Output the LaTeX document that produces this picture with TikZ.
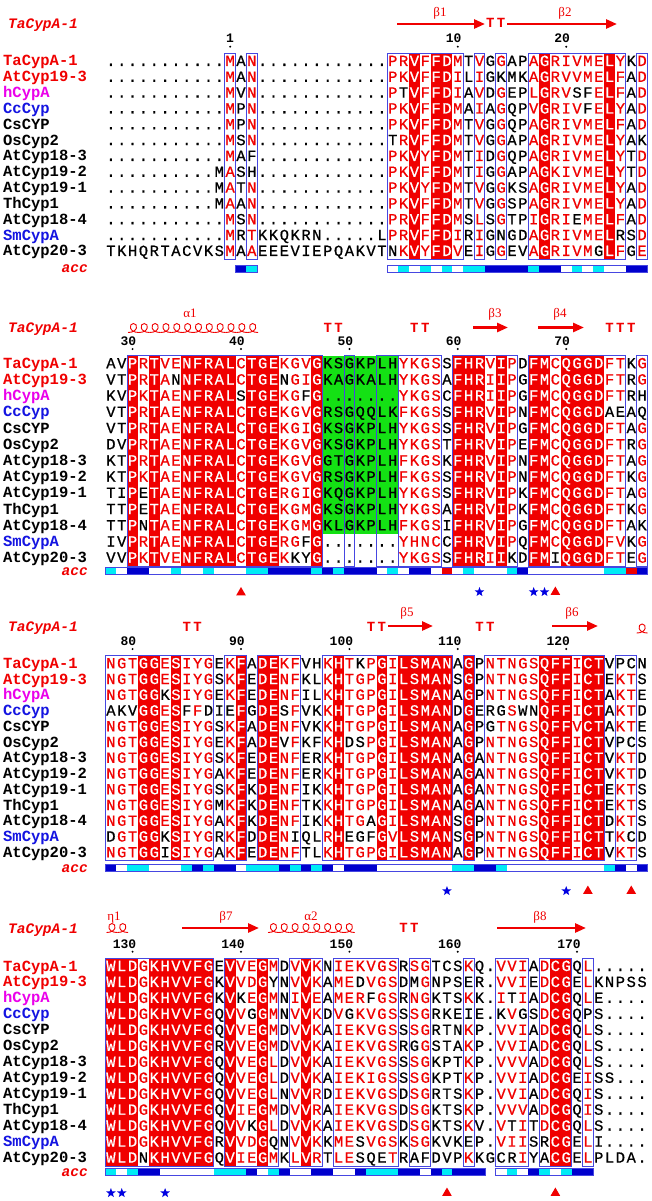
\documentclass[tikz,border=0pt]{standalone}
\usepackage{fontspec}
\usetikzlibrary{shapes.geometric,arrows.meta}
\newfontfamily\seqfont{Liberation Mono}
\newfontfamily\seqfontb{Liberation Mono}[FakeBold=0.6]
\newfontfamily\serfont{Liberation Serif}
\definecolor{espred}{RGB}{240,0,0}
\definecolor{espmag}{RGB}{235,0,235}
\definecolor{espblue}{RGB}{20,20,225}
\definecolor{espbox}{RGB}{70,70,225}
\definecolor{espgreen}{RGB}{20,225,20}
\definecolor{starblue}{RGB}{0,0,225}
\definecolor{accb}{RGB}{0,0,205}
\definecolor{accc}{RGB}{0,235,245}
\definecolor{accw}{RGB}{255,255,255}
\definecolor{accr}{RGB}{240,0,0}
\newcount\cc
\newcommand\cLeft[1]{(105.5+(#1-1)*10.84)}
\newcommand\cRight[1]{(105.5+(#1)*10.84)}
\newcommand\cMid[1]{(105.5+(#1-0.5)*10.84)}
\newcommand\setblock[3]{\def\curblk{#1}\def\bone{#2}\def\dy{#3}%
  \pgfmathsetmacro\btop{#2-12.5}\pgfmathsetmacro\bbot{#2+12*#3+3.5}}
\newcommand\redr[2]{\fill[espred] ({\cLeft{#1}},\btop) rectangle ({\cRight{#2}},\bbot);
  \foreach \k in {#1,...,#2}{\expandafter\gdef\csname r\curblk-\k\endcsname{}}}
\newcommand\boxr[2]{\draw[boxst] ({\cLeft{#1}},\btop) rectangle ({\cRight{#2}},\bbot);}
\def\putchar#1{%
 \edef\nn{s\curblk\rowi c\the\cc}%
 \edef\px{\cMid{\the\cc}}%
 \ifx.#1%
   \node[seqst] (\nn) at ({\px},\rowy) {.};%
 \else
   \ifcsname r\curblk-\the\cc\endcsname
     \node[seqst,text=white] (\nn) at ({\px},\rowy) {\uppercase{#1}};%
   \else
     \ifnum`#1>96\relax
       \node[seqst,text=espred] (\nn) at ({\px},\rowy) {\uppercase{#1}};%
     \else
       \node[seqst] (\nn) at ({\px},\rowy) {#1};%
     \fi
   \fi
 \fi}
\def\seqloop#1{\ifx\relax#1\else\global\advance\cc by 1\relax\putchar#1\expandafter\seqloop\fi}
\newcommand\seqrow[2]{\pgfmathsetmacro\rowy{\bone+(#1-1)*\dy}\def\rowi{#1}\global\cc=0\relax\seqloop#2\relax}
\def\putacc#1{\ifx-#1\else\fill[acc#1] ({\cLeft{\the\cc}},\acctop) rectangle ({\cRight{\the\cc}},\accbot);\fi}
\def\accloop#1{\ifx\relax#1\else\global\advance\cc by 1\relax\putacc#1\expandafter\accloop\fi}
\newcommand\accbar[2]{\def\acctop{#2}\pgfmathsetmacro\accbot{#2+7}\global\cc=0\relax\accloop#1\relax}
\newcommand\accfr[3]{\draw[accframe] ({\cLeft{#1}},#3) rectangle ({\cRight{#2}},#3+7);}
\newcommand\names{%
 \foreach \nm/\cl [count=\i] in {TaCypA-1/espred,AtCyp19-3/espred,hCypA/espmag,CcCyp/espblue,CsCYP/black,OsCyp2/black,AtCyp18-3/black,AtCyp19-2/black,AtCyp19-1/black,ThCyp1/black,AtCyp18-4/black,SmCypA/espblue,AtCyp20-3/black}{%
   \node[namest,text=\cl] (n\curblk\i) at (3,{\bone+(\i-1)*\dy}) {\nm};}}
\newcommand\resnum[2]{\node[numst] (num\curblk#2) at ({\cMid{#1}+3.9},{\bone-23}) {#2};
  \fill ({\cMid{#1}},{\bone-19.3}) circle (1.1);}
\newcommand\turnT[3]{\foreach \k in {#1,...,#2}{\node[turnst] (t\curblk\k) at ({\cMid{\k}},#3) {T};}}
% helix: start x, number of loops, baseline y
\newcommand\helixloops[3]{\foreach \j in {1,...,#2}{%
  \pgfmathsetmacro\hx{#1+(\j-1)*10.84}%
  \draw[helixst] (\hx,#3) .. controls (\hx+10.3,#3) and (\hx+10.3,#3-9) .. (\hx+5.4,#3-9)
     .. controls (\hx+0.6,#3-9) and (\hx+0.6,#3) .. (\hx+10.84,#3);}}
\tikzset{
 seqst/.style={font=\seqfontb\fontsize{15.5}{16}\selectfont,inner sep=0pt,anchor=base},
 namest/.style={font=\seqfont\bfseries\fontsize{15.5}{16}\selectfont,inner sep=0pt,anchor=base west},
 hdrst/.style={font=\seqfont\bfseries\itshape\fontsize{14.5}{15}\selectfont,inner sep=0pt,anchor=base west,text=espred},
 acclab/.style={font=\seqfont\bfseries\itshape\fontsize{14.5}{15}\selectfont,inner sep=0pt,anchor=base east,text=espred},
 numst/.style={font=\seqfont\bfseries\fontsize{13}{13}\selectfont,inner sep=0pt,anchor=base east},
 turnst/.style={font=\seqfont\bfseries\fontsize{14}{14}\selectfont,inner sep=0pt,anchor=base,text=espred},
 sslab/.style={font=\serfont\fontsize{13}{13}\selectfont,inner sep=0pt,anchor=base,text=espred},
 ssarrow/.style={draw=espred,line width=2.6pt,-{Triangle[length=11pt,width=9pt]}},
 helixst/.style={draw=espred,line width=0.9pt},
 boxst/.style={draw=espbox,line width=0.9pt},
 accframe/.style={draw=espbox,line width=0.8pt},
 starst/.style={star,star points=5,star point ratio=2.4,fill=starblue,inner sep=0pt,minimum size=10pt},
 trist/.style={regular polygon,regular polygon sides=3,fill=espred,inner sep=0pt,minimum size=11pt},
}
\begin{document}
\begin{tikzpicture}[x=1pt,y=-1pt]
\useasboundingbox (0,0) rectangle (651,1201);
\fill[white] (0,0) rectangle (651,1201);
% ================= BLOCK A =================
\setblock{A}{66}{15.83}
\node[hdrst] (hA) at (8,29) {TaCypA-1};
\draw[ssarrow] (397,24) -- (485,24);
\node[sslab] (lbA1) at (440,17) {β1};
\turnT{36}{37}{28}
\draw[ssarrow] (507,24) -- (617,24);
\node[sslab] (lbA2) at (565,17) {β2};
\resnum{12}{1}\resnum{33}{10}\resnum{43}{20}
\redr{29}{29}\redr{31}{32}\redr{41}{41}\redr{47}{47}
\boxr{12}{12}\boxr{14}{14}\boxr{27}{33}\boxr{35}{35}\boxr{37}{37}\boxr{40}{48}\boxr{50}{50}
\names
\seqrow{1}{...........mAn............prVfFDmTvGgAPaGrivmeLyKd}
\seqrow{2}{...........mAn............pkVfFDiLiGKMKaGrvvmeLfAd}
\seqrow{3}{...........mVn............pTVfFDiAvDgEPlGrvSFeLfAd}
\seqrow{4}{...........mPn............pkVfFDmAiAgQPvGrivFeLyAd}
\seqrow{5}{...........mPn............pkVfFDmTvGgQPaGrivmeLfAd}
\seqrow{6}{...........mSn............TrVfFDmTvGgAPaGrivmeLyAK}
\seqrow{7}{...........mAF............pkVyFDmTiDgQPaGrivmeLyTd}
\seqrow{8}{..........MaSH............pkVfFDmTiGgAPaGkivmeLyTd}
\seqrow{9}{..........MaTn............pkVyFDmTvGgKSaGrivmeLyAd}
\seqrow{10}{..........MaAn............pkVfFDmTvGgSPaGrivmeLyAd}
\seqrow{11}{...........mSn............prVfFDmSlSgTPiGriEmeLfAd}
\seqrow{12}{...........mRtKKQKRN.....LprVfFDiRiGNGDaGrivmeLRSd}
\seqrow{13}{TKHQRTACVKSmAaEEEVIEPQAKVTNkVyFDvEiGgEVaGrivmGLfGe}
\accbar{------------bc------------wcwcwcwccbbbbcbbwcwcwwbb}{265}
\accfr{13}{14}{265}\accfr{27}{50}{265}
\node[acclab] (accA) at (88,272.5) {acc};
% ================= BLOCK B =================
\setblock{B}{368.3}{16.2}
\node[hdrst] (hB) at (8,332.5) {TaCypA-1};
\node[sslab] (lbB1) at (190,317) {α1};
\helixloops{128}{12}{332.5}
\turnT{21}{22}{332}\turnT{29}{30}{332}
\draw[ssarrow] (473,327.5) -- (508,327.5);
\node[sslab] (lbB2) at (495,317) {β3};
\draw[ssarrow] (538,327.5) -- (584,327.5);
\node[sslab] (lbB3) at (560,317) {β4};
\turnT{47}{49}{332}
\resnum{3}{30}\resnum{13}{40}\resnum{23}{50}\resnum{33}{60}\resnum{43}{70}
\fill[espgreen] ({\cLeft{21}},\btop) rectangle ({\cRight{27}},{\bone+10*\dy+3.5});
\redr{3}{3}\redr{5}{5}\redr{8}{12}\redr{14}{16}\redr{20}{20}\redr{33}{35}\redr{37}{37}\redr{40}{41}\redr{43}{46}
\boxr{3}{20}\boxr{23}{23}\boxr{26}{27}\boxr{28}{31}\boxr{33}{38}\boxr{40}{48}\boxr{50}{50}
\names
\seqrow{1}{AVPrTveNFRALcTGEkgvGKSGKPLHykgsSFHRvIpDFMcQGGDftKg}
\seqrow{2}{VTPrTaNNFRALcTGENgiGKAGKALHykgsAFHRiIpGFMcQGGDftRg}
\seqrow{3}{KVPkTaeNFRALSTGEkgFG.......ykgsCFHRiIpGFMcQGGDftRH}
\seqrow{4}{VTPrTaeNFRALcTGEkgvGRSGQQLKfkgsSFHRvIpNFMcQGGDAEAQ}
\seqrow{5}{VTPrTaeNFRALcTGEkgiGKSGKPLHykgsSFHRvIpGFMcQGGDftAg}
\seqrow{6}{DVPrTaeNFRALcTGEkgvGKSGKPLHykgsTFHRvIpEFMcQGGDftRg}
\seqrow{7}{KTPrTaeNFRALcTGEkgvGGTGKPLHfkgsKFHRvIpNFMcQGGDftAg}
\seqrow{8}{KTPkTaeNFRALcTGEkgvGRSGKPLHfkgsSFHRvIpNFMcQGGDftKg}
\seqrow{9}{TIPETaeNFRALcTGErgiGKQGKPLHykgsSFHRvIpKFMcQGGDftAg}
\seqrow{10}{TTPETaeNFRALcTGEkgmGKSGKPLHykgsAFHRvIpKFMcQGGDftKg}
\seqrow{11}{TTPNTaeNFRALcTGEkgmGKLGKPLHfkgsIFHRvIpGFMcQGGDftAK}
\seqrow{12}{IVPrTaeNFRALcTGErgFG.......yhncCFHRvIpQFMcQGGDfvKg}
\seqrow{13}{VVPkTveNFRALcTGEkKYG.......ykgsSFHRiIKDFMIQGGDftEg}
\accbar{cwbbwwcwwcwwwccbbbbcbcbbbwcwbbwrwcwwwcbwwwwwwwccrb}{567}
\accfr{1}{50}{567}
\node[acclab] (accB) at (88,575.5) {acc};
\node[trist] (mB1) at ({\cMid{13}},592.5) {};
\node[starst] (mB2) at ({\cMid{35}},592) {};
\node[starst] (mB3) at ({\cMid{40}},592) {};
\node[starst] (mB4) at ({\cMid{41}},592) {};
\node[trist] (mB5) at ({\cMid{42}},592) {};
% ================= BLOCK C =================
\setblock{C}{668.3}{15.75}
\node[hdrst] (hC) at (8,631.5) {TaCypA-1};
\turnT{8}{9}{631}\turnT{25}{26}{631}
\draw[ssarrow] (388,626) -- (433,626);
\node[sslab] (lbC1) at (407,616.5) {β5};
\turnT{35}{36}{631}
\draw[ssarrow] (552,626) -- (598,626);
\node[sslab] (lbC2) at (572,616.5) {β6};
\helixloops{636.7}{1}{633}
\resnum{3}{80}\resnum{13}{90}\resnum{23}{100}\resnum{33}{110}\resnum{43}{120}
\redr{4}{5}\redr{7}{7}\redr{13}{13}\redr{15}{16}\redr{22}{22}\redr{26}{26}\redr{28}{32}\redr{34}{34}\redr{41}{43}\redr{45}{46}
\boxr{1}{10}\boxr{12}{13}\boxr{15}{18}\boxr{21}{32}\boxr{34}{34}\boxr{36}{46}\boxr{48}{49}
\names
\seqrow{1}{ngtGGeSiygEkFADEkfVHkHtKpGiLSMANAGPntngsQFFiCTVPCN}
\seqrow{2}{ngtGGeSiygSkFEDEnfKLkHtgpGiLSMANSGPntngsQFFiCTEktS}
\seqrow{3}{ngtGGKSiygEkFEDEnfILkHtgpGiLSMANAGPntngsQFFiCTAktE}
\seqrow{4}{AKVGGeSFfDIEFGDESfVKkHtgpGiLSMANDGERGsWNQFFiCTAktD}
\seqrow{5}{ngtGGeSiygSkFADEnfVKkHtgpGiLSMANAGPGtngsQFFvCTAktE}
\seqrow{6}{ngtGGeSiygEkFADEVfKFkHDSpGiLSMANAGPntngsQFFiCTVPCS}
\seqrow{7}{ngtGGeSiygSkFEDEnfERkHtgpGiLSMANAGAntngsQFFiCTVktD}
\seqrow{8}{ngtGGeSiygAkFEDEnfERkHtgpGiLSMANAGAntngsQFFiCTVktD}
\seqrow{9}{ngtGGeSiygSkFKDEnfIKkHtgpGiLSMANAGAntngsQFFiCTEktS}
\seqrow{10}{ngtGGeSiygMkFKDEnfTKkHtgpGiLSMANAGAntngsQFFiCTEktS}
\seqrow{11}{ngtGGeSiygAkFKDEnfIKkHtgAGiLSMANSGPntngsQFFiCTDktS}
\seqrow{12}{DgtGGKSiygRkFDDEnIQLrHEGFGvLSMANSGPntngsQFFiCTTkCD}
\seqrow{13}{ngtGGISiygAkFEDEnfTLkHtgpGiLSMANAGPntngsQFFiCTVktS}
\accbar{bwccwwwcbcbbwcccbcbcbwbbbwwwwwwwccbbcwwwwwwwwwcbwb}{864}
\accfr{1}{50}{864}
\node[acclab] (accC) at (88,872) {acc};
\node[starst] (mC1) at ({\cMid{32}},891) {};
\node[starst] (mC2) at ({\cMid{43}},891) {};
\node[trist] (mC3) at ({\cMid{45}},891) {};
\node[trist] (mC4) at ({\cMid{49}},891) {};
% ================= BLOCK D =================
\setblock{D}{971}{15.97}
\node[hdrst] (hD) at (8,933) {TaCypA-1};
\node[sslab] (lbD1) at (114,920) {η1};
\helixloops{106.5}{2}{932.5}
\draw[ssarrow] (182,928) -- (259,928);
\node[sslab] (lbD2) at (226,920) {β7};
\node[sslab] (lbD3) at (311,920) {α2};
\helixloops{268}{8}{932.5}
\turnT{28}{29}{932}
\draw[ssarrow] (497,928) -- (586,928);
\node[sslab] (lbD4) at (540,920) {β8};
\resnum{3}{130}\resnum{13}{140}\resnum{23}{150}\resnum{33}{160}\resnum{44}{170}
\redr{1}{3}\redr{5}{10}\redr{12}{12}\redr{15}{15}\redr{19}{19}\redr{42}{43}
\boxr{1}{10}\boxr{12}{16}\boxr{18}{20}\boxr{22}{27}\boxr{29}{30}\boxr{34}{34}\boxr{37}{39}\boxr{41}{43}\boxr{45}{45}
\names
\seqrow{1}{WLDgKHVVFGEVveGmDvVkNiekvgsRsgTCSkQ.vviAdCGQl.....}
\seqrow{2}{WLDgKHVVFGKVvdGYNvVkAmeDvgsDMgNPSER.vviEdCGElKNPSS}
\seqrow{3}{WLDgKHVVFGKVKeGmNiVeAmerFgsRngKTSkK.iTiAdCGQlE....}
\seqrow{4}{WLDgKHVVFGQVvGGmNvVkDvGkvgsSsgRKEIE.KvGSdCGQPS....}
\seqrow{5}{WLDgKHVVFGQVveGmDvVkAiekvgsSsgRTNkP.vviAdCGQlS....}
\seqrow{6}{WLDgKHVVFGRVveGmDvVkAiekvgsRGgSTAkP.vviAdCGQlS....}
\seqrow{7}{WLDgKHVVFGQVveGlDvVkAiekvgsSsgKPTkP.vvvAdCGQlS....}
\seqrow{8}{WLDgKHVVFGQVveGlDvVkAiekigsSsgKPTkP.vviAdCGEiSS...}
\seqrow{9}{WLDgKHVVFGQVveGlNvVrDiekvgsDsgRTSkP.vviAdCGQiS....}
\seqrow{10}{WLDgKHVVFGQVieGmDvVrAiekvgsDsgKTSkP.vvvAdCGQiS....}
\seqrow{11}{WLDgKHVVFGQVvKGlDvVkAiekvgsDsgKTSkV.vTiTdCGQlS....}
\seqrow{12}{WLDgKHVVFGRVvdGQNvVkKmeSvgsKsgKVKEP.viiSRCGElI....}
\seqrow{13}{WLDNKHVVFGQVieGmKlVrTleSQEtRAFDVPkKGCRiYACGElPLDA.}
\accbar{cwcbbwwwwwcccbwcbwwbbwwbcccbbwbcbbb-wcwbcwcbb-----}{1168}
\accfr{1}{35}{1168}\accfr{37}{45}{1168}
\node[acclab] (accD) at (88,1176) {acc};
\node[starst] (mD1) at ({\cMid{1}},1193) {};
\node[starst] (mD2) at ({\cMid{2}},1193) {};
\node[starst] (mD3) at ({\cMid{6}},1193) {};
\node[trist] (mD4) at ({\cMid{32}},1193) {};
\node[trist] (mD5) at ({\cMid{42}},1193) {};
\end{tikzpicture}
\end{document}
